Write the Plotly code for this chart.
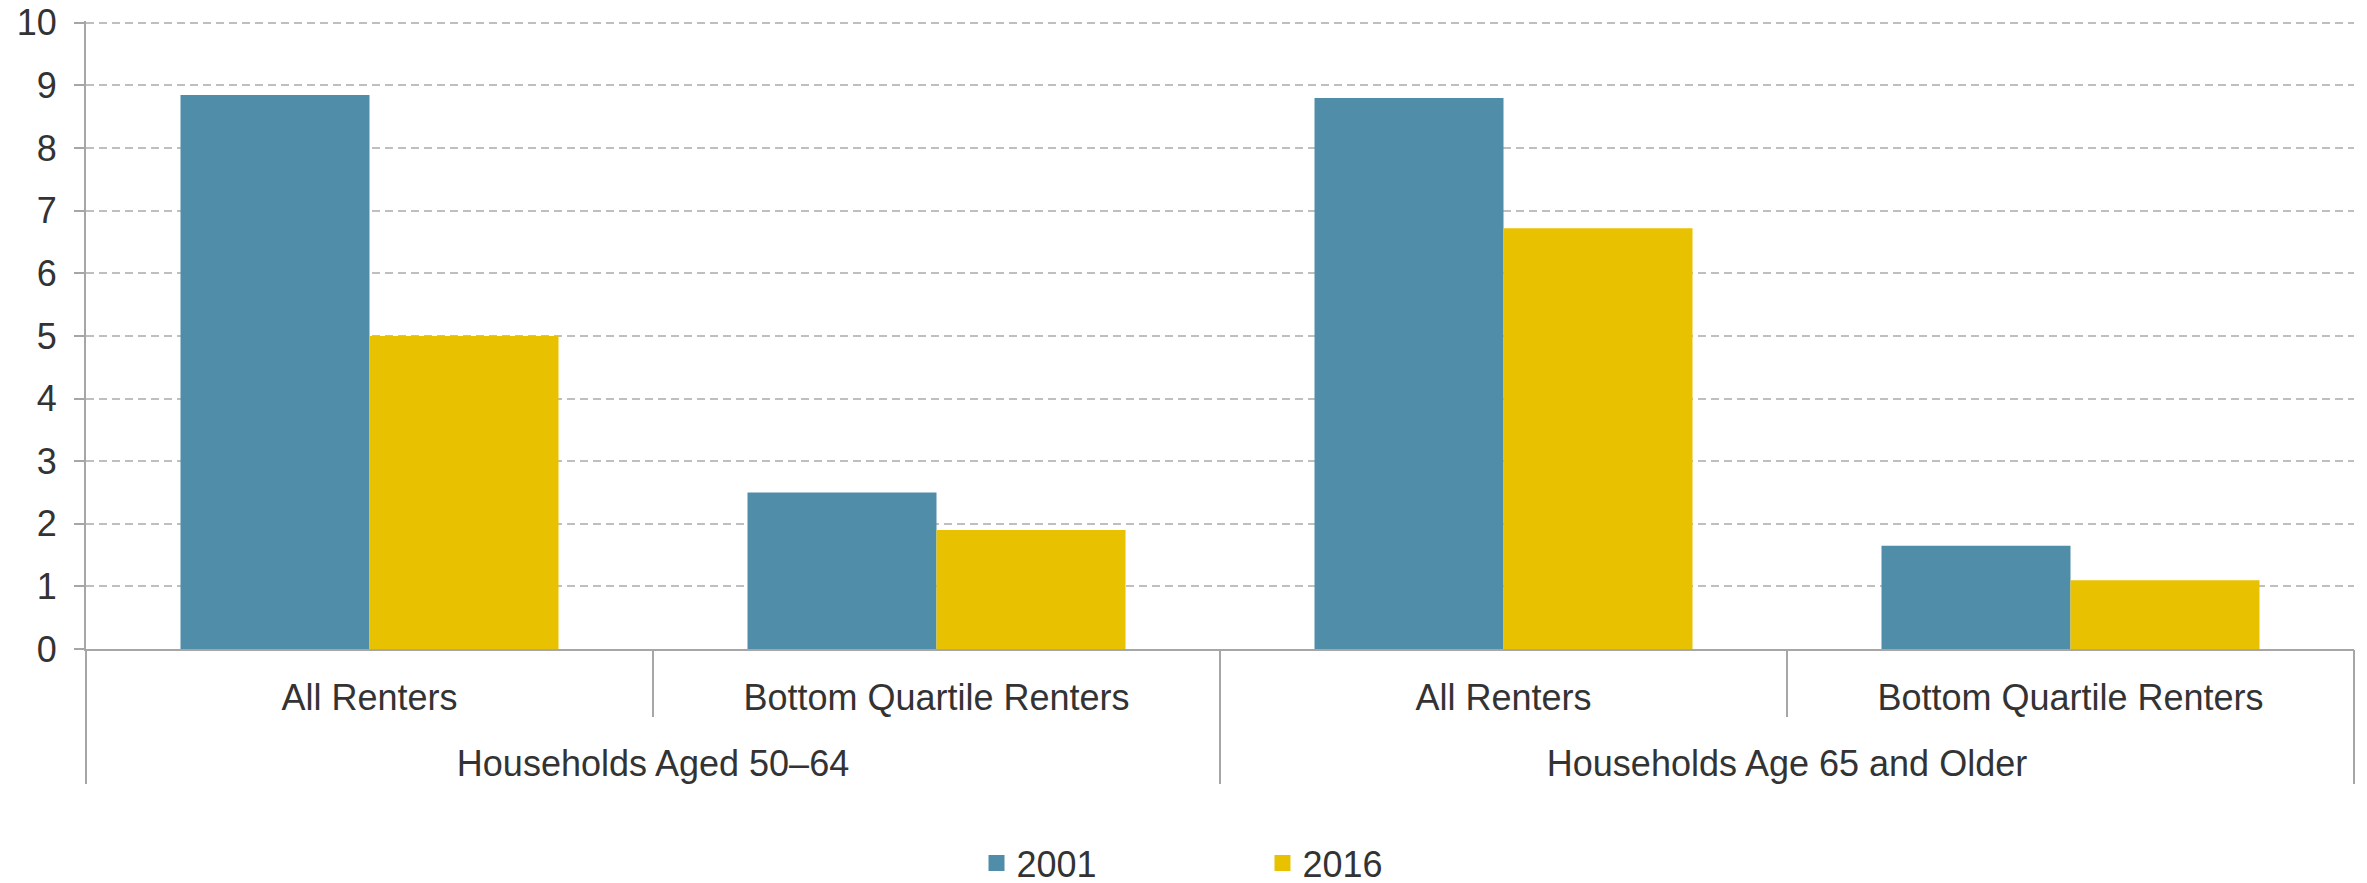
import plotly.graph_objects as go

groups = ["Households Aged 50–64", "Households Aged 50–64",
          "Households Age 65 and Older", "Households Age 65 and Older"]
subcats = ["All Renters", "Bottom Quartile Renters", "All Renters", "Bottom Quartile Renters"]
series_names = ["2001", "2016"]
values_2001 = [8.85, 2.5, 8.8, 1.65]
values_2016 = [5.0, 1.9, 6.72, 1.1]
colors = ["#508DA8", "#E8C100"]
y_ticks = list(range(0, 11))

group_names = list(dict.fromkeys(groups))
x_keys = [g + " | " + s for g, s in zip(groups, subcats)]

FONT = "Liberation Sans, Arial, sans-serif"
TXT = "#333333"
AX = "#A6A6A6"

fig = go.Figure()
for name, vals, col in zip(series_names, [values_2001, values_2016], colors):
    fig.add_trace(go.Bar(x=x_keys, y=vals, name=name,
                         marker=dict(color=col, line=dict(width=0)),
                         showlegend=False))
    fig.add_trace(go.Scatter(x=[x_keys[0]], y=[None], name=name,
                             mode="markers",
                             marker=dict(symbol="square", size=18, color=col),
                             showlegend=True, hoverinfo="skip"))

# invisible trace carrying the outer (group) category axis
fig.add_trace(go.Bar(x=group_names, y=[0] * len(group_names), xaxis="x2",
                     marker=dict(opacity=0), showlegend=False, hoverinfo="skip"))

fig.update_layout(
    width=2367, height=883,
    margin=dict(l=78, r=21, t=13, b=242, autoexpand=False),
    paper_bgcolor="white", plot_bgcolor="white",
    barmode="group", bargap=1/3, bargroupgap=0,
    font=dict(family=FONT, size=36, color=TXT),
    legend=dict(orientation="h", xref="container", yref="container",
                x=0.530, xanchor="center", y=28/883, yanchor="middle",
                font=dict(size=36, color=TXT), entrywidth=241,
                bgcolor="rgba(0,0,0,0)"),
    xaxis=dict(
        type="category", categoryarray=x_keys, categoryorder="array",
        range=[-0.5, len(x_keys) - 0.5],
        tickmode="array", tickvals=x_keys, ticktext=subcats,
        showline=True, linecolor=AX, linewidth=2,
        ticks="outside", tickson="boundaries", ticklen=66, tickcolor=AX, tickwidth=1.5,
        ticklabelstandoff=16, showgrid=False, automargin=False,
        tickfont=dict(size=36, color=TXT),
    ),
    xaxis2=dict(
        type="category", categoryarray=group_names, categoryorder="array",
        range=[-0.5, len(group_names) - 0.5],
        overlaying="x", anchor="y", side="bottom",
        showline=False, ticks="outside", tickson="boundaries", ticklen=134,
        tickcolor=AX, tickwidth=1.5, ticklabelstandoff=90,
        showgrid=False, zeroline=False, automargin=False,
        tickfont=dict(size=36, color=TXT),
    ),
    yaxis=dict(
        range=[0, 10.03], tickvals=y_ticks, ticktext=[str(v) for v in y_ticks],
        showline=True, linecolor=AX, linewidth=2,
        ticks="outside", ticklen=10, tickcolor=AX, tickwidth=2,
        showgrid=True, gridcolor="#BFBFBF", gridwidth=2, griddash="8px,5px",
        zeroline=False, automargin=False, ticklabelstandoff=10,
        ticklabeloverflow="allow",
        tickfont=dict(size=36, color=TXT),
    ),
)

fig.write_html("out.html")
